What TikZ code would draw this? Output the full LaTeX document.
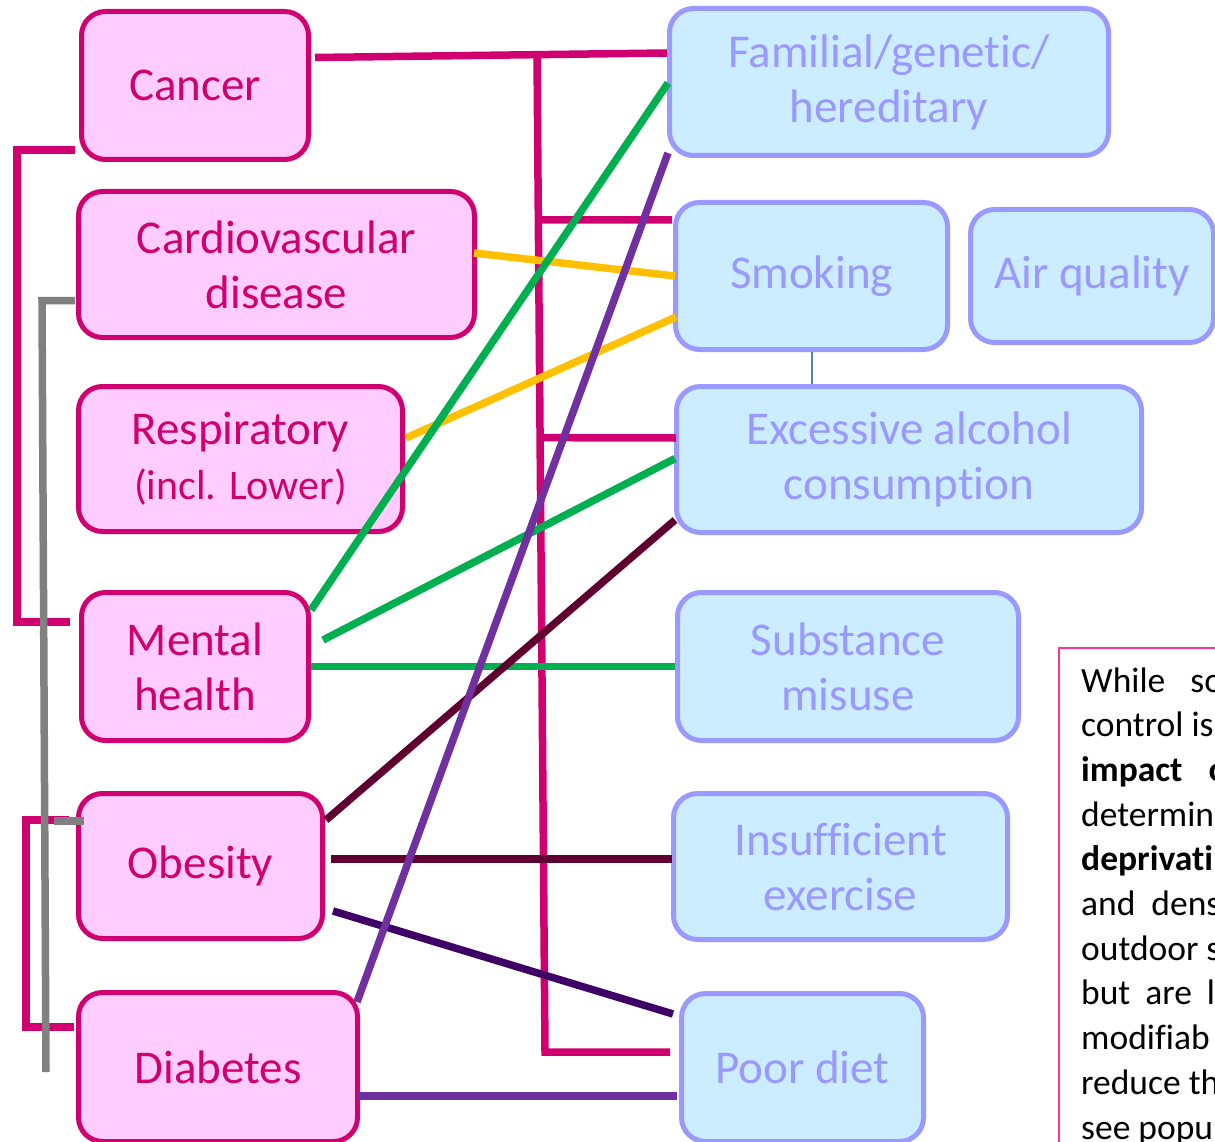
\documentclass[tikz,border=0pt]{standalone}
\usepackage{fontspec}
\setmainfont{Carlito}[RawFeature={-liga;-clig;-calt;-dlig}]
\definecolor{riskpink}{RGB}{255, 204, 255}
\definecolor{riskmagenta}{RGB}{208, 0, 112}
\definecolor{factorblue}{RGB}{204, 236, 255}
\definecolor{factorlilac}{RGB}{153, 153, 255}
\definecolor{linkyellow}{RGB}{255, 192, 0}
\definecolor{linkgreen}{RGB}{0, 176, 80}
\definecolor{linkmaroon}{RGB}{96, 0, 48}
\definecolor{linkindigo}{RGB}{62, 0, 100}
\definecolor{linkpurple}{RGB}{112, 48, 160}
\definecolor{linkgrey}{RGB}{128, 128, 128}
\definecolor{linkblue}{RGB}{79, 129, 189}
\definecolor{noteborder}{RGB}{255, 51, 153}
\usetikzlibrary{calc}

\begin{document}
\begin{tikzpicture}[x=1pt, y=-1pt,
                    disease/.style={draw=riskmagenta, fill=riskpink, line width=5pt, rounded corners=24pt,
                                    text=riskmagenta, font=\fontsize{47}{55}\selectfont, align=center, inner sep=0pt},
                    factor/.style={draw=factorlilac, fill=factorblue, line width=5pt, rounded corners=24pt,
                                   text=factorlilac, font=\fontsize{47}{55}\selectfont, align=center, inner sep=0pt},
                    link/.style={line width=7.5pt},
                    notetext/.style={anchor=base west, inner sep=0pt, font=\fontsize{35.5}{44.7}\selectfont}]
                    \useasboundingbox (0, 0) rectangle (1215, 1142);
                    \clip (0, 0) rectangle (1215, 1142);
                    % conditions
                    \node[disease, minimum width=227, minimum height=148] (cancer) at (195, 85.5) {Cancer};
                    \node[disease, minimum width=396, minimum height=146] (cardio) at (276.5, 264.5) {Cardiovascular\\disease};
                    \node[disease, minimum width=324, minimum height=145] (resp) at (240.5, 459) {Respiratory\\{\fontsize{42}{55}\selectfont(incl. Lower)}};
                    \node[disease, minimum width=227, minimum height=148] (mental) at (195, 666.5) {Mental\\health};
                    \node[disease, minimum width=244, minimum height=145] (obesity) at (200.5, 866) {Obesity};
                    \node[disease, minimum width=279, minimum height=149] (diabetes) at (218, 1067) {Diabetes};
                    % risk factors
                    \node[factor, minimum width=439, minimum height=147] (familial) at (889, 82) {Familial/genetic/\\hereditary};
                    \node[factor, minimum width=272, minimum height=147] (smoking) at (811.5, 276) {Smoking};
                    \node[factor, minimum width=243, minimum height=133] (air) at (1092, 276) {Air quality};
                    \node[factor, minimum width=465, minimum height=146] (alcohol) at (909, 459.5) {Excessive alcohol\\consumpt\kern0pt ion};
                    \node[factor, minimum width=341, minimum height=148] (substance) at (848, 666.5) {Substance\\misuse};
                    \node[factor, minimum width=334, minimum height=146] (exercise) at (840.5, 866.5) {Insufficient\\exercise};
                    \node[factor, minimum width=242, minimum height=148] (poordiet) at (802.5, 1067.5) {Poor diet};
                    % magenta links
                    \coordinate (trunktop) at (537, 54.7);
                    \coordinate (trunkfoot) at (545, 1052);
                    \draw[link, riskmagenta] ($(cancer.east)+(4, -28)$) -- ($(familial.west)+(0, -29)$);
                    \draw[link, riskmagenta] (trunktop) -- (trunkfoot) -- ($(poordiet.west)+(-9, -15.5)$);
                    \draw[link, riskmagenta] ($(trunktop)!0.1655!(trunkfoot)$) -- ($(smoking.west)+(-1, -56)$);
                    \draw[link, riskmagenta] ($(trunktop)!0.384!(trunkfoot)$) -- ($(alcohol.west)+(2, -21.5)$);
                    \draw[link, riskmagenta] ($(cancer.west)+(-4, 64.5)$) -| (17, 622) -- ($(mental.west)+(-9, -44.5)$);
                    \draw[link, riskmagenta] ($(obesity.west)+(-7, -46)$) -| (26, 1027) -- ($(diabetes.west)+(-2, -40)$);
                    % grey link
                    \coordinate (grayfoot) at (46, 1072);
                    \draw[link, linkgrey] ($(cardio.west)+(-1, 36)$) -- (42, 300.5) -- (grayfoot);
                    \draw[link, linkgrey] ($(obesity.west)+(-22, -45)$) -- ($(obesity.west)+(8, -45)$);
                    % yellow links
                    \draw[link, linkyellow] ($(cardio.east)+(-3, -11.5)$) -- ($(smoking.west)+(2, 0)$);
                    \draw[link, linkyellow] ($(resp.east)+(1, -21)$) -- ($(smoking.west)+(3, 41)$);
                    % green links
                    \draw[link, linkgreen] ($(mental.east)+(0, -56.5)$) -- ($(familial.west)+(1, 1)$);
                    \draw[link, linkgreen] ($(mental.east)+(12, -26.5)$) -- ($(alcohol.west)+(1, -1)$);
                    \draw[link, linkgreen] (mental.east) -- (substance.west);
                    % maroon and purple links
                    \draw[link, linkmaroon] ($(obesity.east)+(1, -46)$) -- ($(alcohol.west)+(1, 60.5)$);
                    \draw[link, linkmaroon] ($(obesity.east)+(6, -7)$) -- ($(exercise.west)+(1, -7.5)$);
                    \draw[link, linkindigo] ($(obesity.east)+(8, 45)$) -- ($(poordiet.west)+(-6, -53.5)$);
                    \draw[link, linkpurple] ($(diabetes.east)+(-3, -65)$) -- ($(familial.west)+(1, 71)$);
                    \draw[link, linkpurple] ($(diabetes.east)+(-2, 29)$) -- ($(poordiet.west)+(-2, 28.5)$);
                    \draw[linkblue, line width=2pt] (smoking.south) -- (smoking.south |- alcohol.north);
                    % note
                    \draw[noteborder, line width=2pt] (1059, 648) rectangle (1240, 1170);
                    \foreach \txt [count=\n from 0] in {While\hspace{25pt}so, control is, {\textbf{impact\hspace{26pt}o}},
                                                        determin, {\textbf{deprivat\kern0pt i}}, and\hspace{16pt}dens, outdoor s,
                                                        but\hspace{15pt}are\hspace{15pt}l, modifiab, reduce th, see popu}
                        \node[notetext] (note\n) at (1081, {692+44.7*\n}) {\txt};
                \end{tikzpicture}
\end{document}
